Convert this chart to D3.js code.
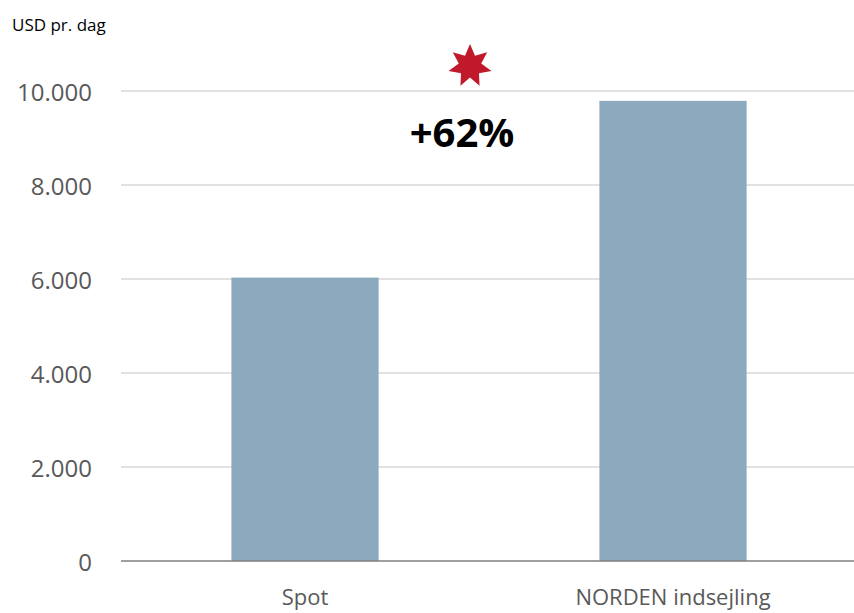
<!DOCTYPE html>
<html>
<head>
<meta charset="utf-8">
<script src="https://cdn.jsdelivr.net/npm/d3@7"></script>
<style>
  body { margin: 0; background: #fff; }
  svg { display: block; }
</style>
</head>
<body>
<div id="chart"></div>
<script>
var categories = ["Spot", "NORDEN indsejling"];
var values = [6030, 9790];
var tickValues = [0, 2000, 4000, 6000, 8000, 10000];
var tickLabels = ["0", "2.000", "4.000", "6.000", "8.000", "10.000"];
var unitLabel = "USD pr. dag";
var diffLabel = "+62%";

var width = 854, height = 613;
var fontFam = "'Open Sans', 'Noto Sans', sans-serif";

var svg = d3.select("#chart").append("svg")
    .attr("width", width)
    .attr("height", height);

var x = d3.scaleBand()
    .domain(categories)
    .range([121, 857])
    .paddingInner(0.6)
    .paddingOuter(0.3);

var y = d3.scaleLinear()
    .domain([0, 10000])
    .range([561, 91]);

// gridlines
svg.append("g")
    .selectAll("line")
    .data(tickValues.slice(1))
    .join("line")
    .attr("x1", 121)
    .attr("x2", width)
    .attr("y1", d => y(d))
    .attr("y2", d => y(d))
    .attr("stroke", "#d9d9d9")
    .attr("stroke-width", 1.5);

// y tick labels
svg.append("g")
    .selectAll("text")
    .data(tickValues)
    .join("text")
    .attr("x", 92)
    .attr("y", d => y(d))
    .attr("text-anchor", "end")
    .attr("dominant-baseline", "central")
    .attr("font-family", fontFam)
    .attr("font-size", "24px")
    .attr("fill", "#595959")
    .text((d, i) => tickLabels[i]);

// bars
svg.append("g")
    .selectAll("rect")
    .data(values)
    .join("rect")
    .attr("x", (d, i) => x(categories[i]))
    .attr("width", x.bandwidth())
    .attr("y", d => y(d))
    .attr("height", d => y(0) - y(d))
    .attr("fill", "#8ca9bd");

// baseline
svg.append("line")
    .attr("x1", 121)
    .attr("x2", width)
    .attr("y1", y(0))
    .attr("y2", y(0))
    .attr("stroke", "#7f7f7f")
    .attr("stroke-width", 1.5);

// category labels
svg.append("g")
    .selectAll("text")
    .data(categories)
    .join("text")
    .attr("x", d => x(d) + x.bandwidth() / 2)
    .attr("y", 596)
    .attr("text-anchor", "middle")
    .attr("dominant-baseline", "central")
    .attr("font-family", fontFam)
    .attr("font-size", "22px")
    .attr("fill", "#595959")
    .text(d => d);

// unit label
svg.append("text")
    .attr("x", 12)
    .attr("y", 24)
    .attr("dominant-baseline", "central")
    .attr("font-family", fontFam)
    .attr("font-size", "17px")
    .attr("fill", "#000")
    .text(unitLabel);

// difference label
svg.append("text")
    .attr("x", 462)
    .attr("y", 131)
    .attr("text-anchor", "middle")
    .attr("dominant-baseline", "central")
    .attr("font-family", fontFam)
    .attr("font-weight", "bold")
    .attr("font-size", "40px")
    .attr("fill", "#000")
    .text(diffLabel);

// 7-pointed star
var starPts = [];
var R = 22, r = 11.5;
for (let k = 0; k < 14; k++) {
    var a = -Math.PI / 2 + k * Math.PI / 7;
    var rr = k % 2 === 0 ? R : r;
    starPts.push([rr * Math.cos(a), rr * Math.sin(a)]);
}
svg.append("path")
    .attr("d", d3.line()(starPts) + "Z")
    .attr("transform", "translate(470,66)")
    .attr("fill", "#c0192c");
</script>
</body>
</html>
